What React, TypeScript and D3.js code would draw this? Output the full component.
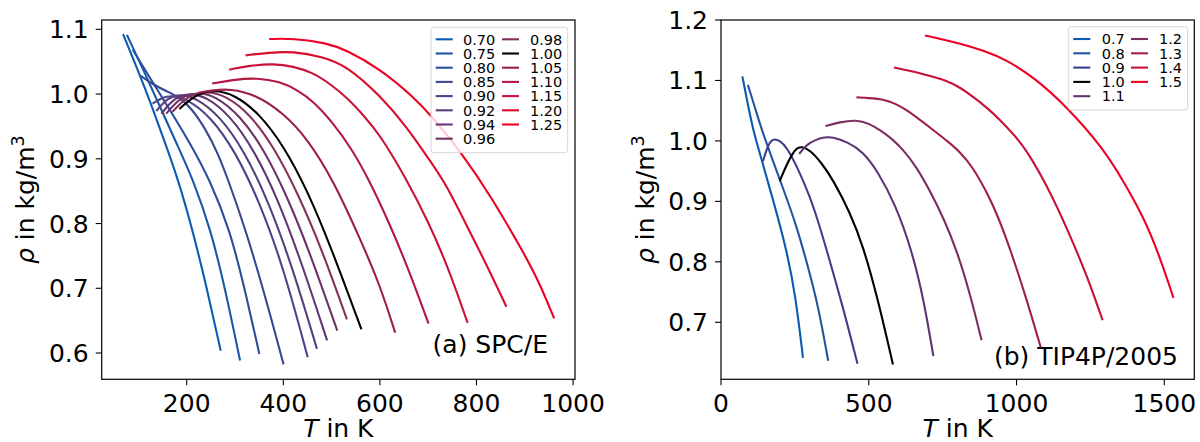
import React from "react";
import * as d3 from "d3";

// ---------- DATA: (a) SPC/E  [T in K, rho] ----------
const spceLabels = ["0.70","0.75","0.80","0.85","0.90","0.92","0.94","0.96","0.98","1.00","1.05","1.10","1.15","1.20","1.25"];
const spce070 = [[69,1.091],[100,1.035],[125,0.987],[155,0.925],[182.6,0.867],[210,0.796],[240,0.706],[270,0.605]];
const spce075 = [[77,1.09],[110,1.038],[145,0.98],[180,0.922],[213.7,0.867],[250,0.79],[280,0.698],[310,0.59]];
const spce080 = [[89.5,1.067],[124,1.0248],[165.4,0.9753],[206.8,0.9244],[248.2,0.8672],[289.6,0.79],[320.7,0.6973],[350,0.6002]];
const spce085 = [[107,1.027],[130,1.015],[159,1.004],[185,0.995],[210,0.978],[240,0.945],[265,0.908],[286,0.867],[320,0.795],[360,0.695],[400,0.584]];
const spce090 = [[131,0.986],[150,0.995],[168,0.998],[200,0.993],[250,0.965],[300,0.912],[350,0.835],[400,0.733],[450,0.595]];
const spce092 = [[138.5,0.975],[160,0.994],[186,1.0],[220,0.994],[270,0.965],[320,0.911],[370,0.833],[420,0.73],[469,0.608]];
const spce094 = [[149,0.971],[175,0.995],[207,1.0015],[240,0.996],[290,0.967],[340,0.913],[390,0.836],[440,0.735],[490,0.621]];
const spce096 = [[159,0.971],[188,0.996],[223,1.003],[260,0.997],[310,0.967],[360,0.915],[410,0.839],[460,0.745],[511,0.636]];
const spce098 = [[172,0.974],[202,0.997],[240,1.005],[280,0.998],[330,0.97],[380,0.919],[430,0.847],[480,0.76],[531,0.6535]];
const spce100 = [[186.6,0.978],[217,0.9985],[255,1.007],[300,0.999],[350,0.97],[400,0.921],[450,0.851],[500,0.761],[561,0.638]];
const spce105 = [[225,1.002],[255,1.006],[290,1.008],[340,1.0],[400,0.971],[450,0.931],[503.5,0.867],[560,0.775],[600,0.705],[631,0.633]];
const spce110 = [[255,1.0166],[300,1.0225],[345,1.025],[393,1.0195],[430,1.006],[462,0.989],[503.5,0.955],[540,0.917],[576,0.87],[620,0.8],[660,0.728],[700,0.647]];
const spce115 = [[290,1.038],[330,1.044],[380,1.047],[420,1.043],[462,1.033],[500,1.014],[531,0.995],[570,0.964],[600,0.937],[655,0.869],[700,0.803],[740,0.735],[781,0.648]];
const spce120 = [[324,1.06],[370,1.064],[420,1.066],[480,1.058],[531,1.044],[600,0.998],[655,0.95],[700,0.901],[738,0.86],[780,0.796],[820,0.738],[861,0.673]];
const spce125 = [[373,1.085],[420,1.086],[490,1.079],[531,1.068],[600,1.039],[669,0.996],[710,0.964],[770,0.908],[830,0.842],[897,0.756],[930,0.709],[960,0.655]];
const spceSeries = [spce070,spce075,spce080,spce085,spce090,spce092,spce094,spce096,spce098,spce100,spce105,spce110,spce115,spce120,spce125];

// ---------- DATA: (b) TIP4P/2005 ----------
const tipLabels = ["0.7","0.8","0.9","1.0","1.1","1.2","1.3","1.4","1.5"];
const tip07 = [[73,1.105],[90,1.062],[109,1.018],[128,0.985],[175,0.905],[222,0.82],[252,0.745],[277,0.643]];
const tip08 = [[92,1.091],[115,1.055],[138,1.018],[175,0.968],[215,0.915],[255,0.86],[290,0.8],[330,0.725],[362,0.638]];
const tip09 = [[143,0.968],[160,0.995],[177,1.0043],[200,1.0],[222,0.99],[260,0.955],[301,0.908],[330,0.865],[357.6,0.8196],[410,0.73],[461,0.633]];
const tip10 = [[200,0.935],[215,0.953],[239,0.977],[255,0.988],[273,0.991],[301,0.985],[340,0.964],[380,0.935],[436,0.882],[481,0.826],[530,0.74],[581,0.632]];
const tip11 = [[267,0.98],[290,0.994],[320,1.002],[350,1.006],[375,1.007],[430,0.998],[481,0.982],[530,0.95],[590,0.895],[645,0.82],[685,0.74],[718,0.646]];
const tip12 = [[357,1.025],[400,1.031],[459,1.035],[500,1.029],[538,1.018],[580,1.003],[617,0.985],[660,0.958],[710,0.915],[755,0.87],[797,0.82],[840,0.752],[881,0.672]];
const tip13 = [[462,1.072],[500,1.071],[549,1.069],[590,1.062],[628,1.051],[670,1.036],[718,1.018],[765,1.0],[808.5,0.982],[850,0.958],[900,0.915],[940,0.872],[977.7,0.822],[1030,0.745],[1081,0.66]];
const tip14 = [[588.6,1.121],[640,1.116],[696,1.109],[763.5,1.1],[810,1.088],[853.5,1.073],[900,1.055],[944,1.035],[990,1.011],[1034,0.985],[1110,0.92],[1180,0.845],[1240,0.775],[1290,0.705]];
const tip15 = [[693.5,1.174],[750,1.168],[808.5,1.161],[887,1.15],[966.5,1.134],[1056.5,1.106],[1169.5,1.057],[1293,0.988],[1360,0.935],[1428.7,0.875],[1480,0.815],[1530,0.742]];
const tipSeries = [tip07,tip08,tip09,tip10,tip11,tip12,tip13,tip14,tip15];

// ticks
const spceXTicks = [200,400,600,800,1000];
const spceYTicks = [0.6,0.7,0.8,0.9,1.0,1.1];
const tipXTicks = [0,500,1000,1500];
const tipYTicks = [0.7,0.8,0.9,1.0,1.1,1.2];

// styles (colors)
const spceColors = ["#0a5cb0","#1a58a8","#2a4f9c","#3a4892","#4c4488","#573f80","#623874","#6d3268","#86305e","#000000","#9c1e4c","#b31843","#c8143a","#dc0c2e","#f00022"];
const tipColors = ["#0a5cb0","#2453a0","#3d3f8a","#000000","#5e3577","#7e2d62","#a0204c","#c8103a","#f00022"];

const FONT = "DejaVu Sans, sans-serif";

type PanelProps = {
  x0: number; x1: number; y0: number; y1: number;
  xDom: [number, number]; yDom: [number, number];
  series: number[][][]; labels: string[]; colors: string[];
  xTicks: number[]; yTicks: number[]; yFmt: (v: number) => string;
  legend: { left: number; top: number; right: number; bottom: number; rows: number; rowY0: number; dy: number; h1: number; t1: number; h2: number; t2: number };
  ylabelX: number; note: string; noteX: number; noteY: number;
};

function Panel(p: PanelProps) {
  const xs = d3.scaleLinear().domain(p.xDom).range([p.x0, p.x1]);
  const ys = d3.scaleLinear().domain(p.yDom).range([p.y1, p.y0]);
  const line = d3.line<number[]>().x(d => xs(d[0])).y(d => ys(d[1])).curve(d3.curveBasis);
  const L = p.legend;
  const cx = (p.x0 + p.x1) / 2;
  const cy = (p.y0 + p.y1) / 2;
  return (
    <g fontFamily={FONT}>
      <defs>
        <clipPath id={"clip" + Math.round(p.x0)}>
          <rect x={p.x0} y={p.y0} width={p.x1 - p.x0} height={p.y1 - p.y0} />
        </clipPath>
      </defs>
      <g clipPath={`url(#clip${Math.round(p.x0)})`}>
        {p.series.map((s, i) => (
          <path key={i} d={line(s) || ""} fill="none" stroke={p.colors[i]} strokeWidth={2.1} strokeLinecap="square" />
        ))}
      </g>
      {/* legend */}
      <rect x={L.left} y={L.top} width={L.right - L.left} height={L.bottom - L.top} rx={3} fill="white" fillOpacity={0.8} stroke="#d6d6d6" strokeWidth={1} />
      {p.labels.map((lab, i) => {
        const col = i < L.rows ? 0 : 1;
        const r = col === 0 ? i : i - L.rows;
        const y = L.rowY0 + r * L.dy;
        const hx = col === 0 ? L.h1 : L.h2;
        const tx = col === 0 ? L.t1 : L.t2;
        return (
          <g key={lab}>
            <line x1={hx} x2={hx + 17} y1={y} y2={y} stroke={p.colors[i]} strokeWidth={2.1} />
            <text x={tx} y={y + 5.2} fontSize={14.5} fill="#000">{lab}</text>
          </g>
        );
      })}
      {/* frame */}
      <rect x={p.x0} y={p.y0} width={p.x1 - p.x0} height={p.y1 - p.y0} fill="none" stroke="#000" strokeWidth={1.2} />
      {p.xTicks.map(t => (
        <g key={"x" + t}>
          <line x1={xs(t)} x2={xs(t)} y1={p.y1} y2={p.y1 + 6} stroke="#000" strokeWidth={1.1} />
          <text x={xs(t)} y={411.5} fontSize={25} textAnchor="middle">{String(t)}</text>
        </g>
      ))}
      {p.yTicks.map(t => (
        <g key={"y" + t}>
          <line x1={p.x0 - 6} x2={p.x0} y1={ys(t)} y2={ys(t)} stroke="#000" strokeWidth={1.1} />
          <text x={p.x0 - 13} y={ys(t) + 9} fontSize={25} textAnchor="end">{p.yFmt(t)}</text>
        </g>
      ))}
      <text x={cx} y={437} fontSize={25} textAnchor="middle">
        <tspan fontStyle="italic">T</tspan> in K
      </text>
      <text transform={`translate(${p.ylabelX},${cy}) rotate(-90)`} fontSize={25} textAnchor="middle">
        <tspan fontStyle="italic">ρ</tspan> in kg/m<tspan dy={-10} fontSize={17.5}>3</tspan>
      </text>
      <text x={p.noteX} y={p.noteY} fontSize={25} textAnchor="end">{p.note}</text>
    </g>
  );
}

export default function App() {
  return (
    <svg width={1200} height={442} style={{ position: "absolute", left: 0, top: 0, background: "white" }}>
      <rect x={0} y={0} width={1200} height={442} fill="white" />
      <Panel
        x0={101.7} x1={575} y0={20} y1={379.3}
        xDom={[24, 1004]} yDom={[0.5594, 1.1144]}
        series={spceSeries} labels={spceLabels} colors={spceColors}
        xTicks={spceXTicks} yTicks={spceYTicks} yFmt={v => v.toFixed(1)}
        legend={{ left: 431, top: 27.3, right: 567.7, bottom: 152.7, rows: 8, rowY0: 39.3, dy: 14.2, h1: 435.7, t1: 463, h2: 502, t2: 530 }}
        ylabelX={34} note="(a) SPC/E" noteX={548} noteY={353}
      />
      <Panel
        x0={721} x1={1194.3} y0={20} y1={379.3}
        xDom={[0, 1601.5]} yDom={[0.6057, 1.2]}
        series={tipSeries} labels={tipLabels} colors={tipColors}
        xTicks={tipXTicks} yTicks={tipYTicks} yFmt={v => v.toFixed(1)}
        legend={{ left: 1068.3, top: 26.7, right: 1187.7, bottom: 110, rows: 5, rowY0: 39, dy: 14.3, h1: 1073.3, t1: 1101.7, h2: 1131, t2: 1159 }}
        ylabelX={654} note="(b) TIP4P/2005" noteX={1178} noteY={365}
      />
    </svg>
  );
}
